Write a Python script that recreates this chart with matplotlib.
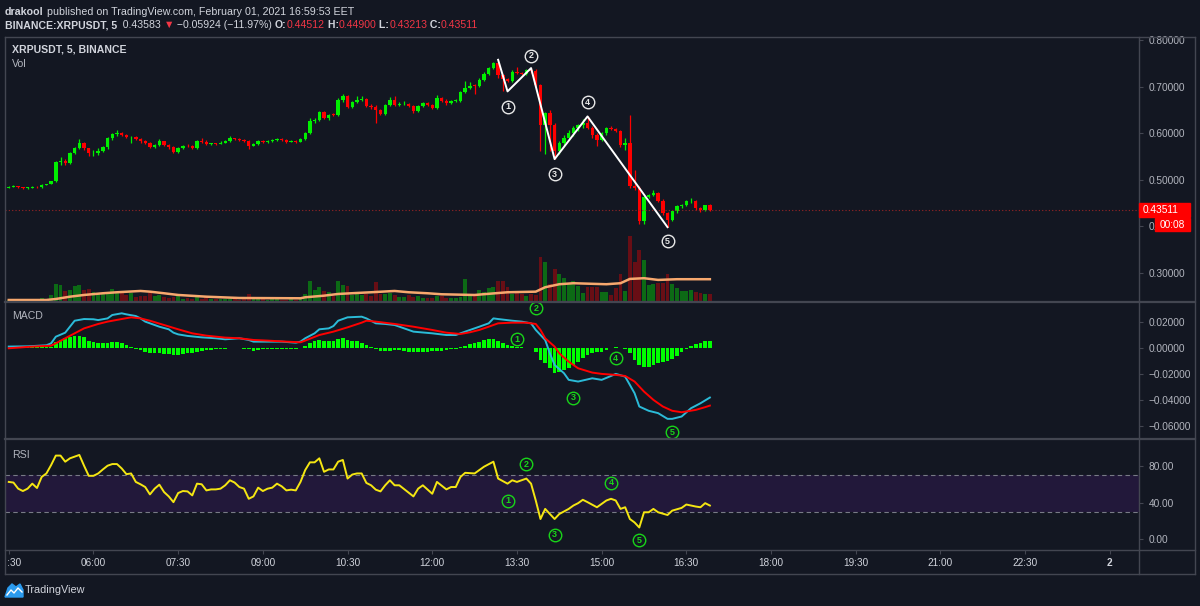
import numpy as np
import matplotlib.pyplot as plt
from matplotlib.patches import Rectangle, Polygon
from matplotlib.lines import Line2D
from matplotlib.transforms import Bbox

# 5 minute candles, XRPUSDT (Binance), 04:30 .. 16:55
first_open = 0.483
closes = [
    0.485, 0.486, 0.484, 0.482, 0.483, 0.485, 0.484, 0.489, 0.491, 0.497,
    0.539, 0.541, 0.536, 0.557, 0.568, 0.580, 0.568, 0.557, 0.558, 0.562,
    0.571, 0.589, 0.598, 0.600, 0.597, 0.591, 0.592, 0.587, 0.583, 0.580,
    0.571, 0.575, 0.583, 0.575, 0.570, 0.560, 0.568, 0.573, 0.572, 0.569,
    0.583, 0.582, 0.576, 0.578, 0.577, 0.580, 0.583, 0.589, 0.587, 0.585,
    0.584, 0.573, 0.577, 0.583, 0.581, 0.583, 0.585, 0.588, 0.585, 0.582,
    0.584, 0.582, 0.587, 0.600, 0.627, 0.629, 0.645, 0.632, 0.640, 0.639,
    0.671, 0.680, 0.657, 0.668, 0.671, 0.673, 0.659, 0.657, 0.649, 0.641,
    0.661, 0.672, 0.661, 0.662, 0.663, 0.658, 0.647, 0.658, 0.664, 0.661,
    0.654, 0.675, 0.669, 0.665, 0.669, 0.670, 0.689, 0.698, 0.702, 0.701,
    0.715, 0.727, 0.740, 0.750, 0.725, 0.716, 0.712, 0.731, 0.729, 0.727,
    0.736, 0.733, 0.704, 0.617, 0.643, 0.618, 0.561, 0.579, 0.590, 0.600,
    0.612, 0.617, 0.622, 0.612, 0.597, 0.586, 0.600, 0.611, 0.610, 0.605,
    0.574, 0.579, 0.486, 0.482, 0.411, 0.464, 0.468, 0.471, 0.455, 0.4285,
    0.414, 0.432, 0.443, 0.445, 0.4535, 0.455, 0.439, 0.436, 0.44512, 0.43511,
]
highs = [
    0.487, 0.488, 0.487, 0.485, 0.485, 0.486, 0.486, 0.490, 0.492, 0.498,
    0.541, 0.548, 0.544, 0.559, 0.570, 0.587, 0.582, 0.569, 0.563, 0.568,
    0.573, 0.591, 0.600, 0.606, 0.602, 0.598, 0.594, 0.594, 0.589, 0.586,
    0.582, 0.577, 0.587, 0.584, 0.577, 0.572, 0.570, 0.575, 0.576, 0.574,
    0.585, 0.590, 0.585, 0.580, 0.580, 0.583, 0.585, 0.594, 0.590, 0.589,
    0.587, 0.586, 0.579, 0.585, 0.585, 0.585, 0.588, 0.590, 0.589, 0.587,
    0.586, 0.586, 0.589, 0.602, 0.633, 0.632, 0.647, 0.647, 0.642, 0.643,
    0.676, 0.684, 0.682, 0.670, 0.680, 0.680, 0.675, 0.663, 0.660, 0.651,
    0.663, 0.678, 0.680, 0.668, 0.669, 0.665, 0.660, 0.661, 0.666, 0.667,
    0.663, 0.681, 0.677, 0.674, 0.671, 0.674, 0.691, 0.711, 0.709, 0.705,
    0.718, 0.731, 0.743, 0.753, 0.757, 0.727, 0.719, 0.735, 0.742, 0.732,
    0.738, 0.740, 0.737, 0.706, 0.645, 0.650, 0.622, 0.583, 0.596, 0.606,
    0.616, 0.620, 0.630, 0.636, 0.615, 0.600, 0.603, 0.614, 0.616, 0.612,
    0.607, 0.590, 0.640, 0.520, 0.486, 0.466, 0.470, 0.478, 0.474, 0.458,
    0.431, 0.434, 0.446, 0.448, 0.456, 0.462, 0.457, 0.441, 0.447, 0.449,
]
lows = [
    0.482, 0.484, 0.483, 0.481, 0.480, 0.482, 0.483, 0.483, 0.488, 0.490,
    0.495, 0.532, 0.531, 0.533, 0.555, 0.566, 0.565, 0.552, 0.550, 0.554,
    0.560, 0.566, 0.586, 0.595, 0.594, 0.589, 0.580, 0.585, 0.580, 0.576,
    0.568, 0.569, 0.573, 0.573, 0.567, 0.558, 0.558, 0.566, 0.570, 0.567,
    0.567, 0.580, 0.574, 0.575, 0.575, 0.576, 0.579, 0.582, 0.585, 0.583,
    0.582, 0.566, 0.572, 0.575, 0.579, 0.580, 0.582, 0.584, 0.583, 0.580,
    0.581, 0.580, 0.581, 0.586, 0.598, 0.622, 0.627, 0.630, 0.629, 0.636,
    0.637, 0.668, 0.655, 0.655, 0.665, 0.669, 0.657, 0.652, 0.622, 0.638,
    0.639, 0.659, 0.659, 0.659, 0.660, 0.656, 0.644, 0.645, 0.656, 0.659,
    0.652, 0.652, 0.667, 0.661, 0.663, 0.667, 0.668, 0.686, 0.694, 0.685,
    0.699, 0.712, 0.724, 0.737, 0.718, 0.690, 0.709, 0.710, 0.726, 0.724,
    0.725, 0.730, 0.700, 0.561, 0.556, 0.561, 0.544, 0.555, 0.572, 0.585,
    0.593, 0.605, 0.612, 0.608, 0.590, 0.573, 0.584, 0.597, 0.606, 0.602,
    0.570, 0.565, 0.483, 0.478, 0.405, 0.406, 0.460, 0.465, 0.452, 0.424,
    0.398, 0.411, 0.429, 0.440, 0.443, 0.451, 0.436, 0.430, 0.434, 0.43213,
]
volume = [
    1.5, 1.5, 1.5, 1.5, 1.5, 1.5, 2, 4, 2.7, 7.3,
    18, 17, 11.3, 12, 16, 16.7, 12, 12.7, 10, 8,
    8, 8.7, 13.3, 9.3, 8.7, 7.3, 8.7, 5.3, 6, 6,
    9.3, 6, 7, 5.3, 4, 5.3, 6, 3.3, 4, 3.3,
    4.7, 3.3, 4.7, 2.7, 2.7, 2.7, 2.7, 2.7, 2.7, 2,
    2.7, 7.7, 3, 2.7, 2.7, 2.3, 2.7, 3, 2.3, 2.3,
    2.7, 2.3, 3.3, 7.7, 21, 12, 14.7, 11, 9.7, 6.3,
    21.3, 17, 16, 7, 7.7, 7, 7.7, 6.3, 20, 8.3,
    7.7, 9, 7, 5.3, 5.3, 7, 5, 6, 4.3, 4.3,
    4.3, 6.3, 5.7, 4.3, 3.7, 4, 5, 23, 8.3, 6.3,
    12, 10, 13.7, 15.3, 21, 21, 14.7, 7.7, 8.7, 7.7,
    6.3, 7.7, 7, 45, 40.3, 17.7, 32.7, 28, 24.3, 18.3,
    21, 16.3, 8.7, 15.3, 15.3, 14.7, 10.3, 9.7, 7, 13.7,
    27.7, 11, 66, 40.3, 52, 42, 17, 17.7, 18.7, 18.7,
    28, 17.7, 13.7, 11, 11, 11.7, 10.3, 9, 8.3, 8,
]
vol_ma_x = [0, 8, 10, 13, 16, 20, 23, 28, 30, 33, 36, 42, 49, 62, 63, 67, 70, 74,
            77, 82, 85, 89, 92, 99, 106, 112, 114, 117, 120, 127, 130, 132, 135, 138, 142, 149]
vol_ma = [2, 2, 3, 5.3, 7, 8.7, 9.7, 11, 10.3, 8.7, 7, 5.3, 4, 3.7, 4.7, 6.3, 8, 9,
          9.7, 11, 9.7, 8.7, 7.7, 7, 9.7, 10.3, 14.7, 17.7, 18.7, 17.7, 18.7, 23, 23.7, 22, 22.7, 22.7]
last_price = 0.43511

# elliott wave drawing (bar, price) and the circled labels
wave_x = [104, 106, 111, 116, 123, 140]
wave_y = [0.7575, 0.6897, 0.7397, 0.5444, 0.6360, 0.3984]
price_lbl_x = [106, 111, 116, 123, 140]
price_lbl_y = [0.657, 0.766, 0.512, 0.666, 0.368]

macd_x = [0, 4, 8, 9, 10, 12, 13, 14, 16, 18, 19, 21, 22, 24, 25, 27, 28, 29, 31, 32,
          34, 35, 36, 38, 41, 44, 46, 49, 51, 52, 55, 58, 61, 62, 63, 65, 66, 68, 69, 70,
          72, 75, 76, 78, 80, 82, 86, 90, 93, 95, 97, 100, 102, 103, 104, 107, 109, 111, 112, 114,
          115, 116, 118, 119, 121, 124, 126, 128, 129, 131, 133, 134, 136, 138, 140, 141, 143, 145, 147, 149]
macd_v = [0.0011, 0.0013, 0.0021, 0.0036, 0.0087, 0.0118, 0.0164, 0.0210, 0.0223, 0.0221,
          0.0215, 0.0228, 0.0254, 0.0267, 0.0259, 0.0246, 0.0228, 0.0203, 0.0177, 0.0164,
          0.0144, 0.0118, 0.0105, 0.0093, 0.0082, 0.0075, 0.0067, 0.0075, 0.0062, 0.0049,
          0.0049, 0.0049, 0.0041, 0.0049, 0.0075, 0.0113, 0.0144, 0.0151, 0.0169, 0.0210,
          0.0236, 0.0241, 0.0228, 0.0190, 0.0185, 0.0177, 0.0126, 0.0113, 0.0100, 0.0100,
          0.0126, 0.0164, 0.0190, 0.0228, 0.0223, 0.0210, 0.0203, 0.0190, 0.0139, 0.0062,
          -0.0041, -0.0130, -0.0194, -0.0245, -0.0258, -0.0233, -0.0245, -0.0215, -0.0199, -0.0220,
          -0.0348, -0.0450, -0.0483, -0.0501, -0.0545, -0.0545, -0.0527, -0.0463, -0.0425, -0.0381]
signal_x = [0, 5, 9, 10, 12, 14, 16, 19, 21, 24, 26, 28, 30, 33, 36, 39, 42, 46, 49, 52,
            55, 59, 62, 63, 66, 69, 72, 75, 76, 78, 82, 86, 90, 93, 96, 98, 100, 102, 104, 107,
            110, 112, 113, 114, 116, 117, 119, 121, 124, 126, 129, 131, 133, 135, 137, 139, 141, 143, 146, 148, 149]
signal_v = [-0.0002, 0.0011, 0.0018, 0.0036, 0.0075, 0.0113, 0.0151, 0.0185, 0.0203, 0.0223,
            0.0236, 0.0228, 0.0210, 0.0177, 0.0144, 0.0113, 0.0095, 0.0080, 0.0075, 0.0062,
            0.0057, 0.0049, 0.0044, 0.0057, 0.0100, 0.0126, 0.0159, 0.0195, 0.0210, 0.0203,
            0.0185, 0.0164, 0.0139, 0.0118, 0.0108, 0.0121, 0.0139, 0.0164, 0.0190, 0.0195,
            0.0195, 0.0185, 0.0139, 0.0075, 0.0011, -0.0041, -0.0105, -0.0156, -0.0189, -0.0199,
            -0.0207, -0.0215, -0.0258, -0.0335, -0.0399, -0.0450, -0.0483, -0.0494, -0.0476, -0.0455, -0.0443]
hist = [
    0.0003, 0.0003, 0.0003, 0.0004, 0.0004, 0.0004, 0.0005, 0.0005, 0.0008, 0.0010,
    0.0049, 0.0061, 0.0079, 0.0087, 0.0092, 0.0095, 0.0082, 0.0056, 0.0049, 0.0036,
    0.0041, 0.0041, 0.0046, 0.0046, 0.0036, 0.0020, 0.0010, -0.0005, -0.0015, -0.0028,
    -0.0036, -0.0036, -0.0041, -0.0046, -0.0049, -0.0056, -0.0054, -0.0046, -0.0041, -0.0041,
    -0.0028, -0.0020, -0.0015, -0.0015, -0.0010, -0.0010, -0.0005, -0.0003, -0.0001, 0.0003,
    -0.0005, -0.0010, -0.0020, -0.0015, -0.0010, -0.0010, -0.0008, -0.0008, -0.0005, -0.0005,
    -0.0005, -0.0005, 0.0002, 0.0015, 0.0041, 0.0056, 0.0061, 0.0056, 0.0056, 0.0056,
    0.0069, 0.0074, 0.0061, 0.0056, 0.0051, 0.0041, 0.0023, 0.0010, -0.0010, -0.0020,
    -0.0020, -0.0020, -0.0015, -0.0015, -0.0020, -0.0028, -0.0033, -0.0033, -0.0028, -0.0028,
    -0.0023, -0.0020, -0.0020, -0.0015, -0.0010, -0.0005, 0.0005, 0.0015, 0.0028, 0.0036,
    0.0049, 0.0061, 0.0067, 0.0067, 0.0054, 0.0036, 0.0023, 0.0015, 0.0010, 0.0005,
    0.0003, -0.0003, -0.0028, -0.0092, -0.0118, -0.0156, -0.0189, -0.0182, -0.0169, -0.0156,
    -0.0131, -0.0105, -0.0079, -0.0054, -0.0041, -0.0033, -0.0028, -0.0015, -0.0003, 0.0008,
    -0.0003, -0.0008, -0.0041, -0.0092, -0.0131, -0.0143, -0.0143, -0.0131, -0.0113, -0.0105,
    -0.0097, -0.0087, -0.0061, -0.0028, -0.0010, 0.0015, 0.0031, 0.0041, 0.0051, 0.0056,
]
macd_lbl_x = [108, 112, 120, 129, 141]
macd_lbl_y = [0.0067, 0.0305, -0.0382, -0.0079, -0.0648]

rsi_x = list(range(84)) + [86, 87, 88, 90, 91, 93, 94, 95, 96, 97, 99, 101, 103, 104, 106,
                           107, 108, 110, 111, 112, 113, 114, 116, 117, 119, 120, 121, 122, 123, 125,
                           127, 128, 129, 130, 131, 132, 133, 134, 135, 136, 137, 138, 140, 141, 143,
                           144, 146, 147, 148, 149]
rsi_v = [62.6, 61.9, 55.2, 52.6, 55.2, 60.7, 55.9, 68.1, 71.9, 81.1,
         91.5, 91.5, 84.8, 88.5, 90.4, 92.2, 80.4, 69.3, 69.3, 71.9,
         76.3, 80.4, 82.2, 82.2, 77.4, 71.1, 71.9, 62.6, 60.0, 57.0,
         48.9, 55.2, 59.6, 51.5, 46.7, 40.4, 50.4, 52.6, 52.2, 47.8,
         60.7, 60.0, 53.3, 54.4, 54.4, 55.2, 58.9, 64.4, 61.9, 57.0,
         55.2, 44.1, 46.7, 56.3, 52.6, 55.2, 56.3, 60.7, 57.8, 53.3,
         54.1, 53.3, 62.6, 75.6, 84.1, 84.1, 88.5, 73.7, 76.3, 76.3,
         84.8, 86.7, 66.3, 70.7, 71.9, 71.9, 61.5, 58.9, 54.1, 52.2,
         58.9, 64.4, 58.9, 58.9,
         46.7, 55.2, 58.9, 49.6, 62.6, 54.4, 57.0, 57.0, 68.1, 72.6,
         71.9, 79.3, 84.8, 66.3, 60.7, 64.4, 62.6, 66.3, 60.7, 42.2,
         21.9, 33.0, 21.9, 27.4, 33.0, 36.7, 39.3, 43.0, 40.4, 34.8,
         42.2, 44.1, 42.2, 33.0, 34.8, 21.9, 18.1, 12.6, 29.3, 29.3,
         33.0, 29.3, 26.3, 31.1, 34.1, 37.8, 35.6, 34.8, 39.3, 36.7]
rsi_lbl_x = [106, 110, 116, 128, 134]
rsi_lbl_y = [42.2, 82.2, 4.8, 61.8, -1.4]

tick_labels = ['04:30', '06:00', '07:30', '09:00', '10:30', '12:00', '13:30',
               '15:00', '16:30', '18:00', '19:30', '21:00', '22:30', '2']

W, H = 1200, 606
BG = '#131722'
TXT = '#b2b5be'
HEAD = '#d1d4dc'
LINE = '#434651'
UP = '#00f000'
DOWN = '#ff0000'
RED_TXT = '#f23645'

plt.rcParams['font.family'] = ['Liberation Sans', 'DejaVu Sans']

fig = plt.figure(figsize=(W / 100, H / 100), dpi=100, facecolor=BG)


def pane(l, t, r, b):
    ax = fig.add_axes([l / W, 1 - b / H, (r - l) / W, (b - t) / H])
    ax.set_facecolor(BG)
    for s in ax.spines.values():
        s.set_visible(False)
    ax.tick_params(axis='x', bottom=False, labelbottom=False)
    ax.set_xlim(-0.8, 240.2)
    return ax


def right_ticks(ax, ticks, labels):
    ax.yaxis.tick_right()
    ax.set_yticks(ticks)
    ax.set_yticklabels(labels)
    ax.tick_params(axis='y', colors=LINE, labelcolor=TXT, labelsize=7.3,
                   length=3, width=0.8, pad=4)


def fline(x0, y0, x1, y1, lw=1.0):
    fig.add_artist(Line2D([x0 / W, x1 / W], [1 - y0 / H, 1 - y1 / H],
                          transform=fig.transFigure, color=LINE, lw=lw))


def circled(ax, xs, ys, color):
    for n, (x, y) in enumerate(zip(xs, ys), start=1):
        ax.plot(x, y, 'o', ms=9, mfc='none', mec=color, mew=1.0, zorder=6)
        ax.text(x, y, str(n), color=color, fontsize=6.5, fontweight='bold',
                ha='center', va='center', zorder=6)


idx = np.arange(len(closes))
opens = np.array([first_open] + closes[:-1])
closes_a = np.array(closes)
up = closes_a >= opens
colors = np.where(up, UP, DOWN)

# ---- price pane with volume underneath
ax_v = pane(5, 37, 1139, 302)
ax_v.set_yticks([])
vcol = np.where(up, '#00ff00', '#ff0000')
ax_v.bar(idx, volume, width=0.82, color=vcol, alpha=0.36, linewidth=0)
ax_v.plot(vol_ma_x, vol_ma, color='#f7a86e', lw=1.8)
ax_v.set_ylim(0, max(volume) * 4.0)

ax_p = pane(5, 37, 1139, 302)
ax_p.patch.set_visible(False)
ax_p.set_ylim(0.2378, 0.8064)
ax_p.vlines(idx, lows, highs, colors=colors, lw=0.9)
body = np.maximum(np.abs(closes_a - opens), 0.0015)
ax_p.bar(idx, body, bottom=np.minimum(opens, closes_a), width=0.72, color=colors, linewidth=0)
ax_p.axhline(last_price, color='#9a2424', lw=0.8, ls=(0, (1, 2)))
ax_p.plot(wave_x, wave_y, color='white', lw=1.4, zorder=5)
circled(ax_p, price_lbl_x, price_lbl_y, '#e8e8e8')
pt = [0.3, 0.4, 0.5, 0.6, 0.7, 0.8]
right_ticks(ax_p, pt, [f'{v:.5f}' for v in pt])

# ---- MACD
ax_m = pane(5, 302, 1139, 439)
ax_m.set_ylim(-0.070, 0.0354)
ax_m.bar(idx, hist, width=0.78, color='#00ff00', linewidth=0)
ax_m.plot(macd_x, macd_v, color='#2bbbd8', lw=1.4)
ax_m.plot(signal_x, signal_v, color='#ff0000', lw=1.4)
circled(ax_m, macd_lbl_x, macd_lbl_y, '#19d419')
mt = [0.02, 0.0, -0.02, -0.04, -0.06]
right_ticks(ax_m, mt, [f'{v:.5f}'.replace('-', '\u2212') for v in mt])

# ---- RSI
ax_r = pane(5, 439, 1139, 550)
ax_r.set_ylim(-12.1, 109.7)
ax_r.axhspan(30, 70, color='#22183a', lw=0)
for lv in (30, 70):
    ax_r.axhline(lv, color='#787b86', lw=0.8, ls=(0, (4, 3)))
ax_r.plot(rsi_x, rsi_v, color='#f5e612', lw=1.4)
circled(ax_r, rsi_lbl_x, rsi_lbl_y, '#19d419')
right_ticks(ax_r, [0, 40, 80], ['0.00', '40.00', '80.00'])

# ---- time scale
ax_t = pane(5, 550, 1139, 574)
ax_t.set_ylim(0, 1)
ax_t.set_yticks([])
tick_pos = []
for lab in tick_labels:
    if ':' in lab:
        h, m = lab.split(':')
        minutes = int(h) * 60 + int(m)
    else:
        minutes = 24 * 60
    tick_pos.append((minutes - 270) / 5)
ax_t.set_xticks(tick_pos)
ax_t.tick_params(axis='x', top=True, bottom=False, direction='in', length=3,
                 color=LINE, labeltop=False, labelbottom=False)
# the first label is cut by the left edge of the time scale, as on the site
clip_box = Bbox.from_extents(7.4, 0, 1139, H)
for pos, lab in zip(tick_pos, tick_labels):
    t = ax_t.text(pos, 0.45, lab, color=HEAD, fontsize=7.2, ha='center', va='center',
                  fontweight='bold' if lab == '2' else 'normal')
    t.set_clip_box(clip_box)
    t.set_clip_on(True)

# ---- frame
fline(5, 37, 1195, 37)
fline(5, 574, 1195, 574)
fline(5, 37, 5, 574)
fline(1195, 37, 1195, 574)
fline(1139, 37, 1139, 574)
for yy in (302, 439):
    fline(5, yy, 1195, yy, lw=1.6)
fline(5, 550, 1195, 550)

# last price tag on the scale
fig.canvas.draw()
yd = ax_p.transData.transform((0, last_price))[1]
fig.add_artist(Rectangle((1139 / W, (yd - 7) / H), 51 / W, 14 / H,
                         transform=fig.transFigure, color='#ff0000', zorder=5))
fig.text(1143 / W, yd / H, f'{last_price:.5f}', color='white', fontsize=7.3,
         va='center', ha='left', zorder=6)
fig.add_artist(Rectangle((1155 / W, (yd - 21) / H), 35 / W, 13 / H,
                         transform=fig.transFigure, color='#ff0000', zorder=5))
fig.text(1172.5 / W, (yd - 14.5) / H, '00:08', color='white', fontsize=7.3,
         va='center', ha='center', zorder=6)

# ---- text
rend = fig.canvas.get_renderer()


def runs(x, y, parts, size):
    for s, color, weight in parts:
        t = fig.text(x / W, 1 - y / H, s, color=color, fontsize=size,
                     fontweight=weight, va='center', ha='left')
        x += t.get_window_extent(renderer=rend).width


runs(5, 12, [('drakool', HEAD, 'bold'),
             (' published on TradingView.com, February 01, 2021 16:59:53 EET', HEAD, 'normal')], 7.7)
runs(5, 25, [('BINANCE:XRPUSDT, 5', HEAD, 'bold'), ('  0.43583 ', HEAD, 'normal'),
             ('\u25bc', RED_TXT, 'normal'), (' \u22120.05924 (\u221211.97%) ', HEAD, 'normal'),
             ('O:', HEAD, 'bold'), ('0.44512', RED_TXT, 'normal'),
             (' H:', HEAD, 'bold'), ('0.44900', RED_TXT, 'normal'),
             (' L:', HEAD, 'bold'), ('0.43213', RED_TXT, 'normal'),
             (' C:', HEAD, 'bold'), ('0.43511', RED_TXT, 'normal')], 7.6)

fig.text(12 / W, 1 - 50 / H, 'XRPUSDT, 5, BINANCE', color=HEAD, fontsize=7.6,
         fontweight='bold', va='center')
fig.text(12 / W, 1 - 64 / H, 'Vol', color=TXT, fontsize=7.6, va='center')
fig.text(12 / W, 1 - 316 / H, 'MACD', color=TXT, fontsize=7.6, va='center')
fig.text(12 / W, 1 - 455 / H, 'RSI', color=TXT, fontsize=7.6, va='center')

# TradingView logo
logo_pts = [(5, 597), (8, 588), (12, 584), (16, 587), (20, 584), (23, 590), (23, 597)]
fig.add_artist(Polygon([(x / W, 1 - y / H) for x, y in logo_pts], closed=True,
                       transform=fig.transFigure, color='#2b9bef'))
fig.add_artist(Line2D([7 / W, 11 / W, 14 / W, 18 / W, 22 / W],
                      [1 - 595 / H, 1 - 590 / H, 1 - 593 / H, 1 - 588 / H, 1 - 592 / H],
                      transform=fig.transFigure, color='white', lw=1.0))
fig.text(25 / W, 1 - 590 / H, 'TradingView', color=HEAD, fontsize=7.8, va='center')

fig.savefig('out.png', dpi=100, facecolor=BG)
